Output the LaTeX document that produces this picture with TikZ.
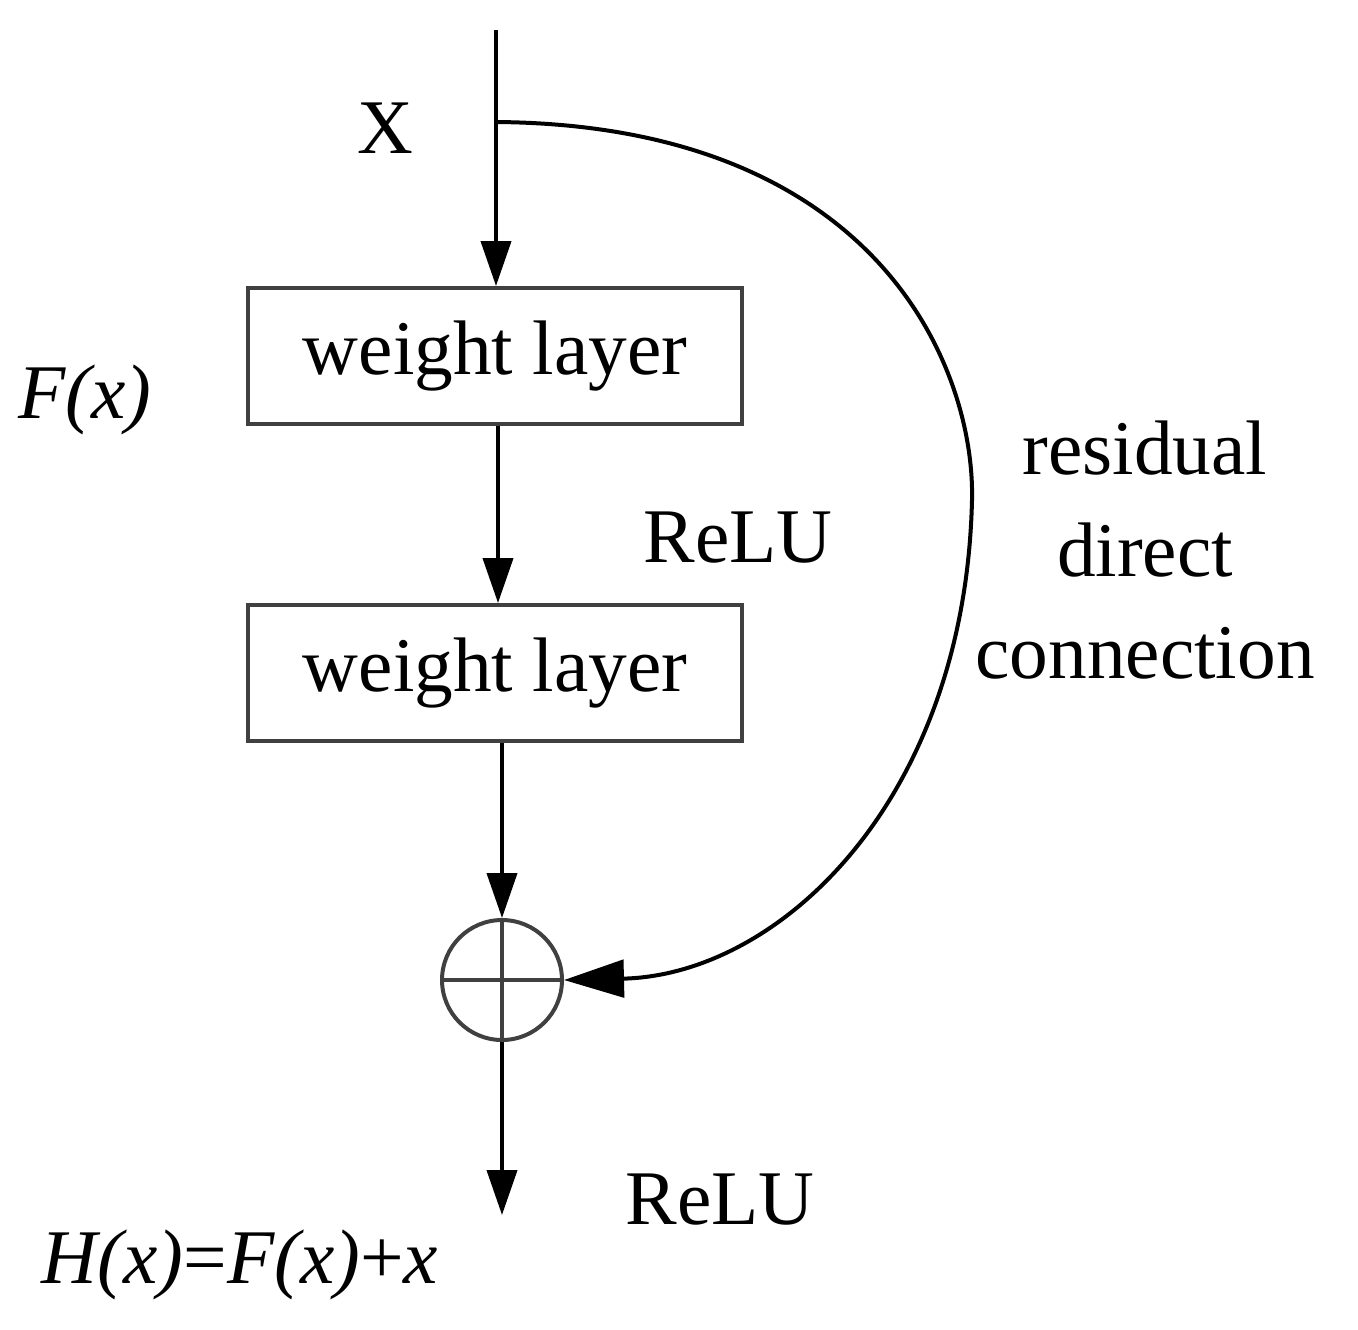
\documentclass[tikz,border=0pt]{standalone}
\usepackage{fontspec}
\setmainfont{Liberation Serif}
\usetikzlibrary{arrows.meta}
\begin{document}
\begin{tikzpicture}[x=0.02cm,y=-0.02cm,
  ln/.style={line width=0.08cm,-{Triangle[length=0.9cm,width=0.6cm]}},
  box/.style={draw=black!75,line width=0.08cm,minimum width=9.9cm,minimum height=2.72cm,inner sep=0pt},
  txt/.style={font=\fontsize{44}{50}\selectfont,inner sep=0pt}]
\useasboundingbox (0,0) rectangle (1358,1329);
\node[box,txt] (b1) at (495,356) {weight layer};
\node[box,txt] (b2) at (495,673) {weight layer};
\node[circle,draw=black!75,line width=0.08cm,minimum size=2.4cm,inner sep=0pt] (c) at (502,980) {};
\draw[black!75,line width=0.08cm] (c.west) -- (c.east) (c.north) -- (c.south);
\coordinate (top) at (496,30);
\coordinate (sp) at (496,122);
\coordinate (out) at (502,1215);
\draw[ln] (top) -- (b1.north -| top);
\draw[ln] (b1.south -| 498,0) -- (b2.north -| 498,0);
\draw[ln] (b2.south -| c.north) -- (c.north);
\draw[ln] (c.south) -- (out);
\draw[line width=0.08cm,-{Triangle[length=1.2cm,width=0.75cm]}] (sp) .. controls (880,125) and (975,370) .. (972,500) .. controls (965,800) and (780,975) .. (c.east);
\node[txt] (X) at (385,128) {X};
\node[txt] (F) at (85,400) {\textit{F(x)}};
\node[txt] (r1) at (738,538) {ReLU};
\node[txt] (r2) at (720,1200) {ReLU};
\node[txt,align=center,font=\fontsize{44}{58}\selectfont] (res) at (1145,550) {residual\\direct\\connection};
\node[txt] (H) at (240,1265) {\textit{H(x)}=\textit{F(x)}+\textit{x}};
\end{tikzpicture}
\end{document}
